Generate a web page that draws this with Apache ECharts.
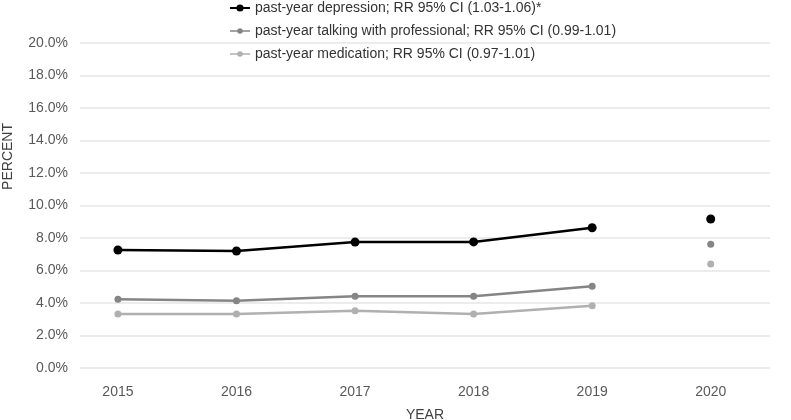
<!DOCTYPE html>
<html><head><meta charset="utf-8">
<script src="https://cdn.jsdelivr.net/npm/echarts@6/dist/echarts.min.js"></script>
<style>html,body{margin:0;padding:0;background:#fff}#c{width:791px;height:420px}</style>
</head><body><div id="c"></div>
<script>
var years = [2015, 2016, 2017, 2018, 2019, 2020];
var seriesNames = [
  'past-year depression; RR 95% CI (1.03-1.06)*',
  'past-year talking with professional; RR 95% CI (0.99-1.01)',
  'past-year medication; RR 95% CI (0.97-1.01)'
];
var depression = [7.26, 7.20, 7.75, 7.76, 8.63, 9.17];
var talking = [4.23, 4.14, 4.41, 4.41, 5.03, 7.61];
var medication = [3.32, 3.32, 3.53, 3.32, 3.83, 6.40];
var colors = ['#000000', '#858585', '#b0b0b0'];

function build(vals) {
  var d = [];
  for (var i = 0; i < years.length; i++) {
    if (years[i] === 2020) d.push([2019.5, '-']);
    d.push([years[i], vals[i]]);
  }
  return d;
}
var all = [depression, talking, medication];
var series = all.map(function (v, i) {
  return {
    name: seriesNames[i], type: 'line', data: build(v),
    symbol: 'circle', symbolSize: i === 0 ? 9 : 7,
    connectNulls: false,
    lineStyle: { color: colors[i], width: 2.5 },
    itemStyle: { color: colors[i] },
    z: 10 - i
  };
});
var iconBig = 'path://M0,3.1H20V4.9H0Z M13.6,4A3.6,3.6,0,1,1,6.4,4A3.6,3.6,0,1,1,13.6,4Z';
var iconSmall = 'path://M0,3.2H20V4.8H0Z M12.8,4A2.8,2.8,0,1,1,7.2,4A2.8,2.8,0,1,1,12.8,4Z';

var chart = echarts.init(document.getElementById('c'));
chart.setOption({
  animation: false,
  textStyle: { fontFamily: 'Liberation Sans, Arial, sans-serif' },
  grid: { left: 80, right: 21, top: 43, bottom: 52, containLabel: false, outerBoundsMode: 'none' },
  legend: {
    orient: 'vertical', left: 225, top: -4, itemGap: 9,
    itemWidth: 20, itemHeight: 8,
    textStyle: { fontSize: 14, color: '#333', fontFamily: 'Liberation Sans, Arial, sans-serif' },
    data: seriesNames.map(function (n, i) { return { name: n, icon: i === 0 ? iconBig : iconSmall }; })
  },
  xAxis: {
    type: 'value', min: 2014.68, max: 2020.5,
    name: 'YEAR', nameLocation: 'middle', nameGap: 40,
    nameTextStyle: { fontSize: 14, color: '#404040' },
    axisLine: { show: false }, axisTick: { show: false }, splitLine: { show: false },
    axisLabel: { customValues: years, fontSize: 14, color: '#595959', margin: 17,
      formatter: function (v) { return String(Math.round(v)); } }
  },
  yAxis: {
    type: 'value', min: 0, max: 20, interval: 2,
    axisLine: { show: false }, axisTick: { show: false },
    splitLine: { lineStyle: { color: '#e6e6e6', width: 1.5 } },
    axisLabel: { fontSize: 14, color: '#595959', margin: 12,
      formatter: function (v) { return v.toFixed(1) + '%'; } }
  },
  graphic: [{
    type: 'text', left: 1, top: 123, rotation: Math.PI / 2,
    style: { text: 'PERCENT', fontSize: 14, fill: '#404040', fontFamily: 'Liberation Sans, Arial, sans-serif' }
  }],
  series: series
});
</script></body></html>
